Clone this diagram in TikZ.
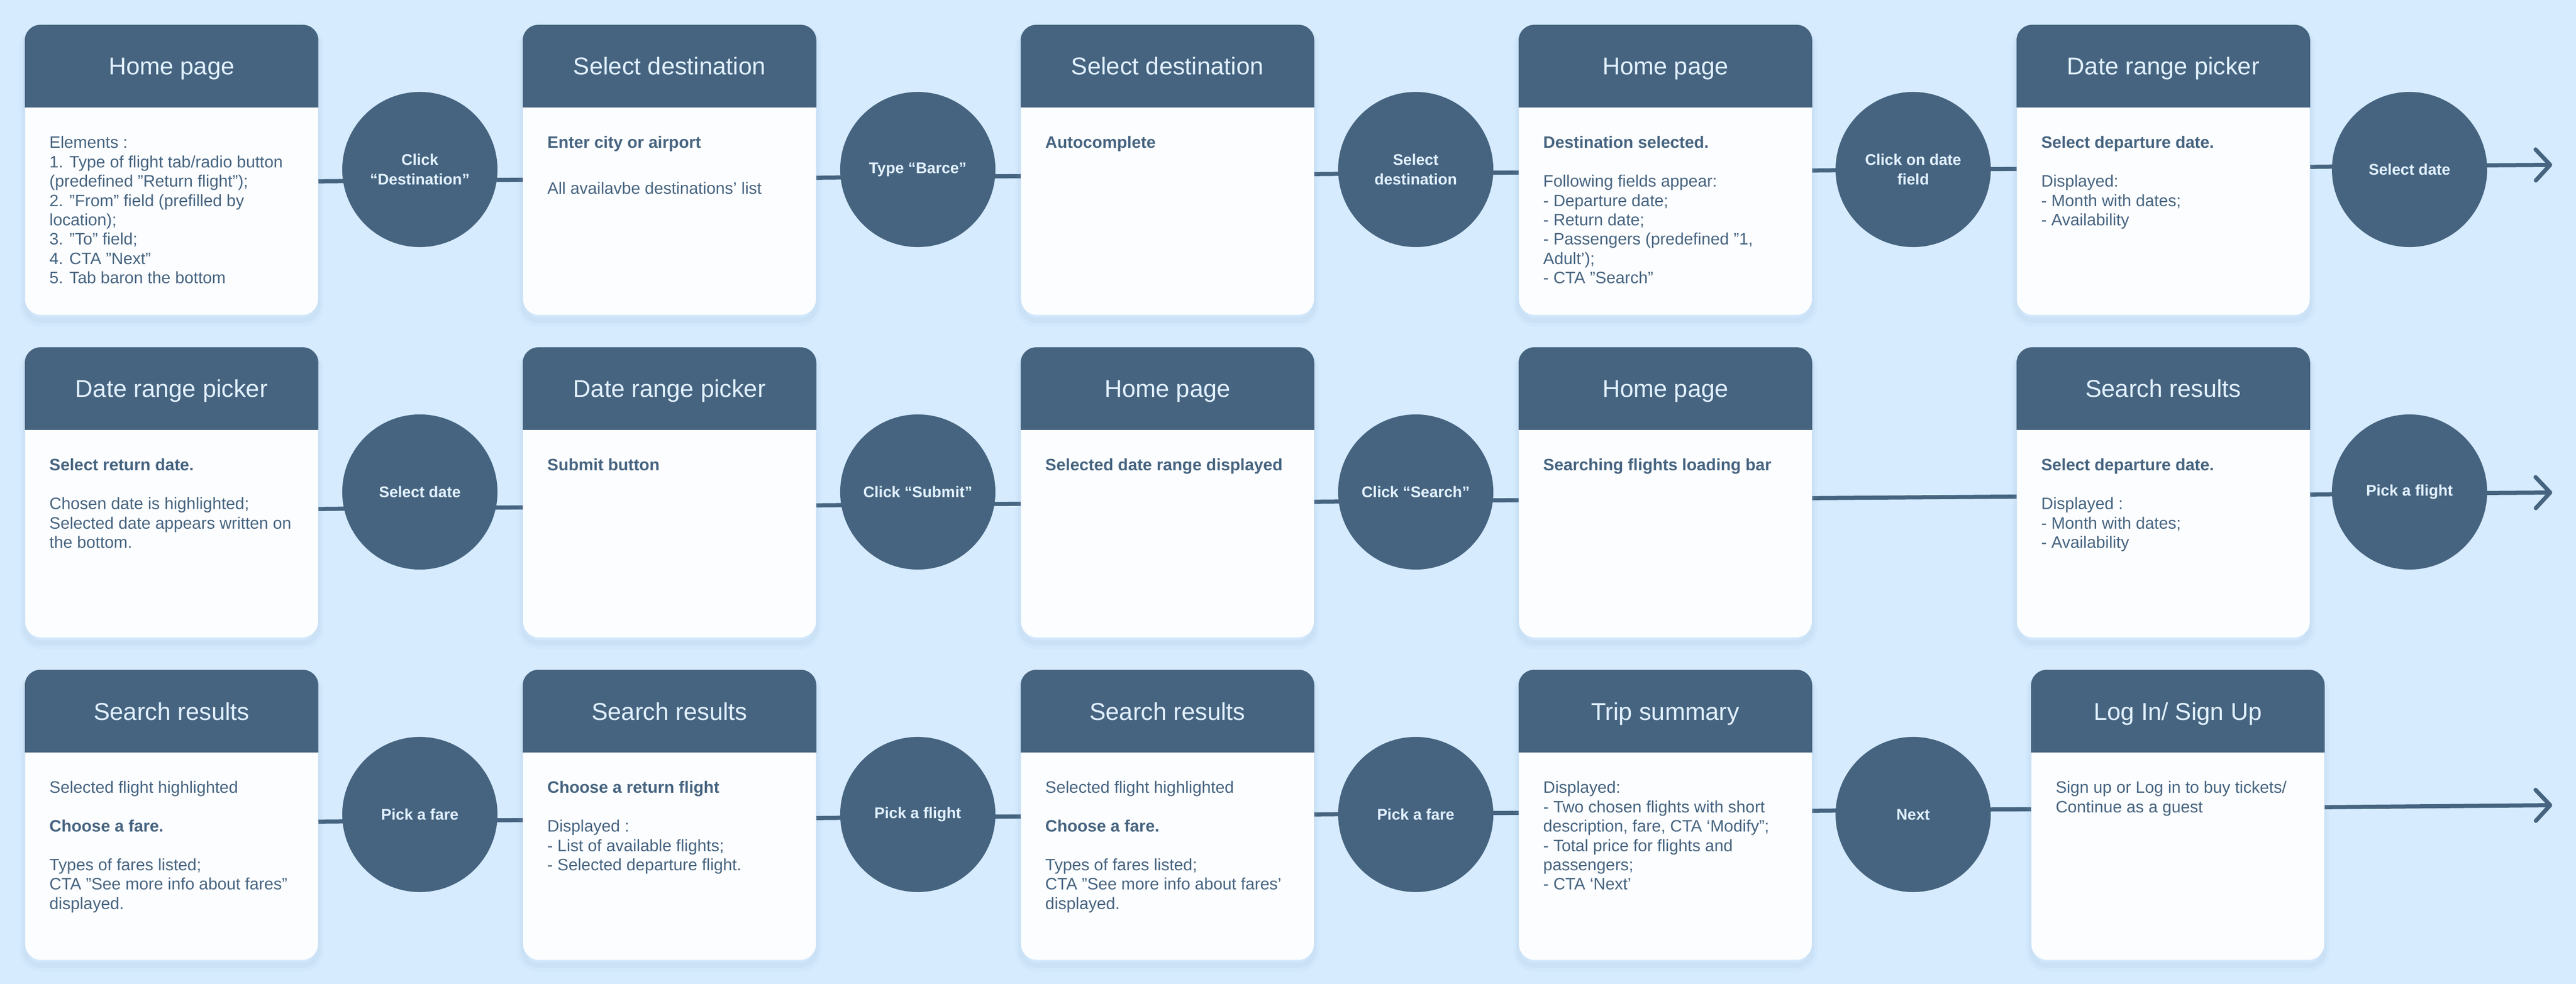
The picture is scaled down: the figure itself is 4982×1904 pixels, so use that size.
\documentclass[tikz,border=0pt]{standalone}
\usepackage{fontspec}
\setmainfont{Liberation Sans}
\usetikzlibrary{calc,arrows.meta}
\definecolor{bgc}{HTML}{D6EBFE}
\definecolor{navy}{HTML}{466480}
\definecolor{ttl}{HTML}{E2F1FF}
\definecolor{bodyc}{HTML}{FCFDFF}
\definecolor{shd}{HTML}{7FA3C6}
\pgfdeclarelayer{bglayer}
\pgfdeclarelayer{lines}
\pgfsetlayers{bglayer,lines,main}
\newcommand\mkcard[5]{%
  \node[card] (#1) at (#2,#3) {};
  \fill[navy] ($(#1.north west)+(0,160)$) [rounded corners=0.3cm] -- (#1.north west) -- (#1.north east) [sharp corners] -- ($(#1.north east)+(0,160)$) -- cycle;
  \node[ttlstyle] (#1t) at ($(#1.north)+(0,97)$) {#4};
  \node[bodystyle] (#1b) at ($(#1.north west)+(47,212)$) {\strut #5};
}
\begin{document}
\begin{tikzpicture}[x=0.01cm,y=-0.01cm,
  card/.style={rectangle, rounded corners=0.3cm, fill=bodyc, minimum width=5.66cm, minimum height=5.6cm, inner sep=0pt, anchor=north west,
    preaction={draw=shd, line width=6pt, opacity=0.05, transform canvas={yshift=-3.5pt}},
    preaction={draw=shd, line width=3pt, opacity=0.08, transform canvas={yshift=-3pt}}},
  ttlstyle/.style={anchor=base, inner sep=0pt, text=ttl, font=\fontsize{13.4}{16}\selectfont},
  bodystyle/.style={anchor=north west, inner sep=0pt, align=left, text=navy, font=\fontsize{9.1}{10.64}\selectfont},
  act/.style={circle, fill=navy, minimum size=3cm, inner sep=0pt, align=center, text=ttl, font=\bfseries\fontsize{8.5}{10.8}\selectfont},
  conn/.style={draw=navy, line width=0.08cm},
  tipped/.style={conn, -{Straight Barb[length=0.28cm,width=0.6cm,round]}}
]
\useasboundingbox (0,0) rectangle (4982,1904);
\begin{pgfonlayer}{bglayer}
  \fill[bgc] (0,0) rectangle (4982,1904);
\end{pgfonlayer}

% ---------- Row 1 ----------
\mkcard{r1c1}{48}{48}{Home page}{Elements :\\1. Type of flight tab/radio button\\(predefined "Return flight");\\2. "From" field (prefilled by\\location);\\3. "To" field;\\4. CTA "Next"\\5. Tab baron the bottom}
\mkcard{r1c2}{1011}{48}{Select destination}{\textbf{Enter city or airport}\\[14.7pt]All availavbe destinations’ list}
\mkcard{r1c3}{1974}{48}{Select destination}{\textbf{Autocomplete}}
\mkcard{r1c4}{2937}{48}{Home page}{\textbf{Destination selected.}\\[10.64pt]Following fields appear:\\- Departure date;\\- Return date;\\- Passengers (predefined "1,\\Adult');\\- CTA "Search"}
\mkcard{r1c5}{3900}{48}{Date range picker}{\textbf{Select departure date.}\\[10.64pt]Displayed:\\- Month with dates;\\- Availability}
\node[act] (r1a1) at (812,328) {Click\\“Destination”};
\node[act] (r1a2) at (1775,328) {Type “Barce”};
\node[act] (r1a3) at (2738,328) {Select\\destination};
\node[act] (r1a4) at (3700,328) {Click on date\\field};
\node[act] (r1a5) at (4660,328) {Select date};
\coordinate (r1end) at (4936,319);

% ---------- Row 2 ----------
\mkcard{r2c1}{48}{672}{Date range picker}{\textbf{Select return date.}\\[10.64pt]Chosen date is highlighted;\\Selected date appears written on\\the bottom.}
\mkcard{r2c2}{1011}{672}{Date range picker}{\textbf{Submit button}}
\mkcard{r2c3}{1974}{672}{Home page}{\textbf{Selected date range displayed}}
\mkcard{r2c4}{2937}{672}{Home page}{\textbf{Searching flights loading bar}}
\mkcard{r2c5}{3900}{672}{Search results}{\textbf{Select departure date.}\\[10.64pt]Displayed :\\- Month with dates;\\- Availability}
\node[act] (r2a1) at (812,952) {Select date};
\node[act] (r2a2) at (1775,952) {Click “Submit”};
\node[act] (r2a3) at (2738,952) {Click “Search”};
\node[act] (r2a5) at (4660,952) {Pick a flight};
\coordinate (r2end) at (4936,953);

% ---------- Row 3 ----------
\mkcard{r3c1}{48}{1296}{Search results}{Selected flight highlighted\\[10.64pt]\textbf{Choose a fare.}\\[10.64pt]Types of fares listed;\\CTA "See more info about fares"\\displayed.}
\mkcard{r3c2}{1011}{1296}{Search results}{\textbf{Choose a return flight}\\[10.64pt]Displayed :\\- List of available flights;\\- Selected departure flight.}
\mkcard{r3c3}{1974}{1296}{Search results}{Selected flight highlighted\\[10.64pt]\textbf{Choose a fare.}\\[10.64pt]Types of fares listed;\\CTA "See more info about fares'\\displayed.}
\mkcard{r3c4}{2937}{1296}{Trip summary}{Displayed:\\- Two chosen flights with short\\description, fare, CTA ‘Modify";\\- Total price for flights and\\passengers;\\- CTA ‘Next’}
\mkcard{r3c5}{3928}{1296}{Log In/ Sign Up}{Sign up or Log in to buy tickets/\\Continue as a guest}
\node[act] (r3a1) at (812,1576) {Pick a fare};
\node[act] (r3a2) at (1775,1576) {Pick a flight};
\node[act] (r3a3) at (2738,1576) {Pick a fare};
\node[act] (r3a4) at (3700,1576) {Next};
\coordinate (r3end) at (4936,1558);

% ---------- Connectors ----------
\begin{pgfonlayer}{lines}
  % row 1
  \draw[conn] ($(r1c1.east)+(0,22)$) -- ($(r1a1)+(0,21)$);
  \draw[conn] ($(r1a1)+(0,21)$) -- ($(r1c2.west)+(0,19)$);
  \draw[conn] ($(r1c2.east)+(0,15)$) -- ($(r1a2)+(0,14)$);
  \draw[conn] ($(r1a2)+(0,14)$) -- ($(r1c3.west)+(0,12)$);
  \draw[conn] ($(r1c3.east)+(0,8)$) -- ($(r1a3)+(0,7)$);
  \draw[conn] ($(r1a3)+(0,7)$) -- ($(r1c4.west)+(0,5)$);
  \draw[conn] ($(r1c4.east)+(0,1)$) -- ($(r1a4)+(0,0)$);
  \draw[conn] ($(r1a4)+(0,0)$) -- ($(r1c5.west)+(0,-2)$);
  \draw[conn] ($(r1c5.east)+(0,-6)$) -- ($(r1a5)+(0,-7)$);
  \draw[tipped] ($(r1a5)+(0,-7)$) -- (r1end);
  % row 2
  \draw[conn] ($(r2c1.east)+(0,32)$) -- ($(r2a1)+(0,31)$);
  \draw[conn] ($(r2a1)+(0,31)$) -- ($(r2c2.west)+(0,29)$);
  \draw[conn] ($(r2c2.east)+(0,25)$) -- ($(r2a2)+(0,24)$);
  \draw[conn] ($(r2a2)+(0,24)$) -- ($(r2c3.west)+(0,22)$);
  \draw[conn] ($(r2c3.east)+(0,18)$) -- ($(r2a3)+(0,17)$);
  \draw[conn] ($(r2a3)+(0,17)$) -- ($(r2c4.west)+(0,15)$);
  \draw[conn] ($(r2c4.east)+(0,11)$) -- ($(r2c5.west)+(0,8)$);
  \draw[conn] ($(r2c5.east)+(0,4)$) -- ($(r2a5)+(0,3)$);
  \draw[tipped] ($(r2a5)+(0,3)$) -- (r2end);
  % row 3
  \draw[conn] ($(r3c1.east)+(0,13)$) -- ($(r3a1)+(0,12)$);
  \draw[conn] ($(r3a1)+(0,12)$) -- ($(r3c2.west)+(0,10)$);
  \draw[conn] ($(r3c2.east)+(0,6)$) -- ($(r3a2)+(0,5)$);
  \draw[conn] ($(r3a2)+(0,5)$) -- ($(r3c3.west)+(0,3)$);
  \draw[conn] ($(r3c3.east)+(0,-1)$) -- ($(r3a3)+(0,-2)$);
  \draw[conn] ($(r3a3)+(0,-2)$) -- ($(r3c4.west)+(0,-4)$);
  \draw[conn] ($(r3c4.east)+(0,-8)$) -- ($(r3a4)+(0,-9)$);
  \draw[conn] ($(r3a4)+(0,-9)$) -- ($(r3c5.west)+(0,-11)$);
  \draw[tipped] ($(r3c5.east)+(0,-15)$) -- (r3end);
\end{pgfonlayer}
\end{tikzpicture}
\end{document}
